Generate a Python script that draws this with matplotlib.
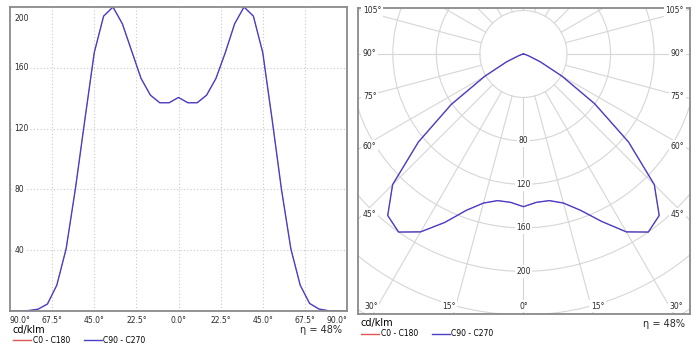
import numpy as np
import matplotlib

matplotlib.use("Agg")
import matplotlib.pyplot as plt
from matplotlib.patches import Circle

# gamma angles (deg), negative = left half of the C-plane
angles = [-90, -85, -80, -75, -70, -65, -60, -55, -50, -45, -40, -35, -30,
          -25, -20, -15, -10, -5, 0, 5, 10, 15, 20, 25, 30, 35, 40, 45,
          50, 55, 60, 65, 70, 75, 80, 85, 90]

# luminous intensity, cd/klm
c90_c270 = [0, 0, 0.3, 1.2, 4.6, 17, 41, 81, 126, 170, 194, 200, 189,
            171, 153, 142, 137, 137, 140.5, 137, 137, 142, 153, 170, 189, 200, 194, 170,
            126, 80, 41, 17, 5, 1.3, 0.2, 0, 0]
# C0-C180 coincides with C90-C270 (hidden underneath in the reference)
c0_c180 = list(c90_c270)

x_ticks = [-90, -67.5, -45, -22.5, 0, 22.5, 45, 67.5, 90]
y_ticks = [40, 80, 120, 160, 200]
rings = [40, 80, 120, 160, 200, 240, 280, 320]
ring_labels = [80, 120, 160, 200]
side_angles = [45, 60, 75, 90, 105]
bottom_angles = [0, 15, 30]
efficiency = 48

RED = "#e05555"
BLUE = "#4a40c8"
FRAME = "#8a8a8a"
GRID = "#d6d6d6"
TXT = "#2a2a2a"

plt.rcParams["font.family"] = ["DejaVu Sans"]

fig = plt.figure(figsize=(7, 3.5), dpi=100)
ax_lin = fig.add_axes([10 / 700, 39 / 350, 337 / 700, 304 / 350])
ax_pol = fig.add_axes([358 / 700, 35.7 / 350, 332 / 700, 306 / 350])

# ---------- linear diagram ----------
ax_lin.plot(angles, c0_c180, color=RED, lw=0.4, label="C0 - C180")
ax_lin.plot(angles, c90_c270, color=BLUE, lw=1.0, label="C90 - C270")
ax_lin.set_xlim(-90, 90)
ax_lin.set_ylim(0, 200)
ax_lin.set_xticks([])
ax_lin.set_yticks([])
for xv in x_ticks[1:-1]:
    ax_lin.axvline(xv, color="#c8c8c8", lw=0.8, ls=(0, (1, 2)), zorder=0)
for yv in y_ticks[:-1]:
    ax_lin.axhline(yv, color="#c8c8c8", lw=0.8, ls=(0, (1, 2)), zorder=0)

for yv in y_ticks:
    dy = -8 if yv == y_ticks[-1] else 0
    ax_lin.annotate(str(yv), xy=(-90, yv), xytext=(3, dy), textcoords="offset points",
                    ha="left", va="center", fontsize=5.5, color=TXT,
                    bbox=dict(fc="white", ec="none", pad=0.8))

for i, xv in enumerate(x_ticks):
    ha = "left" if i == 0 else ("right" if i == len(x_ticks) - 1 else "center")
    ax_lin.annotate(f"{abs(xv):.1f}°", xy=(xv, 0), xytext=(0, -7), textcoords="offset points",
                    ha=ha, va="center", fontsize=5.5, color=TXT, annotation_clip=False)

# ---------- polar diagram (drawn on cartesian axes to keep the square frame) ----------
for r in rings:
    ax_pol.add_patch(Circle((0, 0), r, fill=False, ec=GRID, lw=0.8, zorder=0))
for a in range(0, 360, 15):
    t = np.radians(a)
    ax_pol.plot([40 * np.sin(t), 500 * np.sin(t)], [-40 * np.cos(t), -500 * np.cos(t)],
                color=GRID, lw=0.8, zorder=0)

theta = np.radians(angles)
for vals, col, lw in [(c0_c180, RED, 0.4), (c90_c270, BLUE, 1.0)]:
    v = np.array(vals)
    ax_pol.plot(v * np.sin(theta), -v * np.cos(theta), color=col, lw=lw)

ax_pol.set_xlim(-152, 153)
ax_pol.set_ylim(-239.5, 42)
ax_pol.set_xticks([])
ax_pol.set_yticks([])

lbl = dict(fontsize=5.5, color=TXT, bbox=dict(fc="white", ec="none", pad=1.2))
for r in ring_labels:
    ax_pol.text(0, -r, str(r), ha="center", va="center", **lbl)

x_side = 147.5
for a in side_angles:
    y = -x_side / np.tan(np.radians(a))
    ax_pol.text(-x_side, y, f"{a}°", ha="left", va="center", **lbl)
    ax_pol.text(x_side, y, f"{a}°", ha="right", va="center", **lbl)

y_bot = -232
for a in bottom_angles:
    x = -y_bot * np.tan(np.radians(a))
    if a == 0:
        ax_pol.text(0, y_bot, "0°", ha="center", va="center", **lbl)
    else:
        ax_pol.text(-x, y_bot, f"{a}°", ha="right", va="center", **lbl)
        ax_pol.text(x, y_bot, f"{a}°", ha="left", va="center", **lbl)

# ---------- frames, legends, efficiency ----------
for ax, leg_y, eta_y in [(ax_lin, -0.045, -0.062), (ax_pol, -0.012, -0.033)]:
    for sp in ax.spines.values():
        sp.set_color(FRAME)
        sp.set_linewidth(1.3)
    handles, labels = ax_lin.get_legend_handles_labels()
    leg = ax.legend(handles, labels, loc="upper left",
                    bbox_to_anchor=(0.008, leg_y), ncol=2, frameon=False,
                    title="cd/klm", title_fontsize=7, fontsize=5.5,
                    alignment="left", borderpad=0, borderaxespad=0,
                    handlelength=2.4, handletextpad=0.2, columnspacing=1.8,
                    labelspacing=0.1)
    for h in leg.get_lines():
        h.set_linewidth(1.0)
    leg._legend_box.sep = 1
    ax.text(0.985, eta_y, f"η = {efficiency}%", transform=ax.transAxes,
            ha="right", va="center", fontsize=7, color=TXT)

fig.savefig("out.png", dpi=100)
